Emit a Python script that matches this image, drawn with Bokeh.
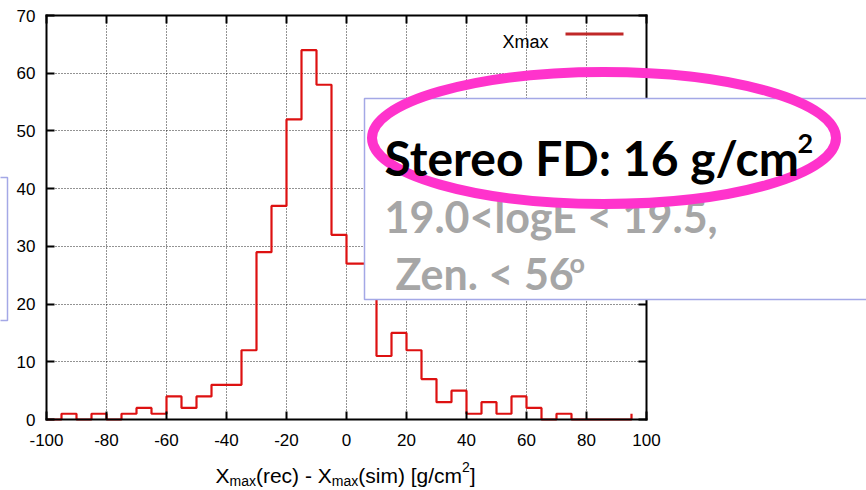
from bokeh.plotting import figure
from bokeh.models import (LinearAxis, FixedTicker, Label, BoxAnnotation,
                          Range1d, CustomJSTickFormatter)
from bokeh.embed import file_html
from bokeh.resources import INLINE

# ---- data ----
bin_left = [-100, -95, -90, -85, -80, -75, -70, -65, -60, -55,
            -50, -45, -40, -35, -30, -25, -20, -15, -10, -5,
            0, 5, 10, 15, 20, 25, 30, 35, 40, 45,
            50, 55, 60, 65, 70, 75, 80, 85, 90, 95]
counts = [0, 1, 0, 1, 0, 1, 2, 1, 4, 2,
          4, 6, 6, 12, 29, 37, 52, 64, 58, 32,
          27, 27, 11, 15, 12, 7, 3, 5, 1, 3,
          1, 4, 2, 0, 1, 0, 0, 0, 0, 1]
x_ticks = [-100, -80, -60, -40, -20, 0, 20, 40, 60, 80, 100]
y_ticks = [0, 10, 20, 30, 40, 50, 60, 70]
series_name = "Xmax"

W, H = 866, 490
XMIN, XMAX, YMIN, YMAX = -100, 100, 0, 70
FL, FR, FT, FB = 46, 646, 15, 419  # where the plot box sits, in pixels


def dx(px):
    return XMIN + (px - FL) * (XMAX - XMIN) / (FR - FL)


def dy(py):
    return YMIN + (FB - py) * (YMAX - YMIN) / (FB - FT)


# the frame covers the whole canvas; axes are drawn at fixed locations
p = figure(width=W, height=H, output_backend="svg", toolbar_location=None,
           x_range=Range1d(dx(0), dx(W)), y_range=Range1d(dy(H), dy(0)),
           min_border=0, outline_line_color=None,
           background_fill_color="white", border_fill_color="white")

TICK_FONT = "Liberation Sans"
blank = CustomJSTickFormatter(code="return ''")


def style_axis(ax, ticks, loc, bounds):
    ax.ticker = FixedTicker(ticks=ticks)
    ax.fixed_location = loc
    ax.bounds = bounds
    ax.axis_line_color = "black"
    ax.axis_line_width = 2
    ax.axis_line_cap = "square"
    ax.major_tick_in = 8
    ax.major_tick_out = 0
    ax.major_tick_line_width = 2
    ax.major_tick_line_color = "black"
    ax.minor_tick_line_color = None
    ax.major_label_text_font = TICK_FONT
    ax.major_label_text_font_size = "17px"
    ax.major_label_text_color = "black"


style_axis(p.xaxis[0], x_ticks, YMIN, (XMIN, XMAX))
style_axis(p.yaxis[0], y_ticks, XMIN, (YMIN, YMAX))
p.xaxis[0].major_label_overrides = {t: str(t) for t in x_ticks}
p.xaxis[0].major_label_standoff = 14
p.yaxis[0].major_label_standoff = 11

top = LinearAxis(formatter=blank)
style_axis(top, x_ticks, YMAX, (XMIN, XMAX))
right = LinearAxis(formatter=blank)
style_axis(right, y_ticks, XMAX, (YMIN, YMAX))
p.add_layout(top, "above")
p.add_layout(right, "right")

has_cross = "cross_bounds" in p.xgrid[0].properties()
for g, ticks, cb in [(p.xgrid[0], x_ticks, (YMIN, YMAX)), (p.ygrid[0], y_ticks, (XMIN, XMAX))]:
    g.ticker = FixedTicker(ticks=ticks)
    g.grid_line_color = "black"
    g.grid_line_dash = "1 2"
    g.grid_line_width = 1
    g.grid_line_alpha = 0.85
    if has_cross:
        g.cross_bounds = cb

if not has_cross:
    # white masks outside the plot box hide the grid's overhang
    for kw in [dict(right=XMIN), dict(left=XMAX), dict(top=YMIN), dict(bottom=YMAX)]:
        p.add_layout(BoxAnnotation(fill_color="white", fill_alpha=1, line_color=None,
                                   level="glyph", **kw))

# histogram
p.step(bin_left, counts, mode="after", line_color="#dd1111", line_width=2.2)

# legend: label then line sample
LEG_FONT = "Liberation Sans"
p.add_layout(Label(x=dx(502), y=dy(41), text=series_name, text_font=LEG_FONT,
                   text_font_size="18px", text_color="black",
                   text_baseline="alphabetic"))
p.segment(x0=[dx(565)], y0=[dy(33.5)], x1=[dx(623)], y1=[dy(33.5)],
          line_color="#c02828", line_width=3)

# x axis title with sub/superscripts
TF, SF = 21, 14
base = 475
pieces = [("X", TF, 0), ("max", SF, 5), ("(rec) - X", TF, 0), ("max", SF, 5),
          ("(sim) [g/cm", TF, 0), ("2", SF, -9), ("]", TF, 0)]
arial = {"X": 667, "m": 833, "a": 556, "x": 500, "(": 333, ")": 333, "r": 333,
         "e": 556, "c": 500, " ": 278, "-": 333, "s": 500, "i": 222, "[": 278,
         "]": 278, "g": 556, "/": 278, "2": 556}
cx = 215.0
for txt, fs, shift in pieces:
    p.add_layout(Label(x=dx(cx), y=dy(base + shift), text=txt, text_font=LEG_FONT,
                       text_font_size=f"{fs}px", text_color="black",
                       text_baseline="alphabetic", text_align="left"))
    cx += sum(arial[c] for c in txt) * fs / 1000.0

# overlay boxes
BOXC = "#a4a8e6"
p.add_layout(BoxAnnotation(left=dx(-20), right=dx(7), top=dy(177), bottom=dy(320),
                           fill_color="white", fill_alpha=1.0,
                           line_color=BOXC, line_alpha=1.0, line_width=1.5))
p.add_layout(BoxAnnotation(left=dx(364), right=dx(900), top=dy(98), bottom=dy(299),
                           fill_color="white", fill_alpha=1.0,
                           line_color=BOXC, line_alpha=1.0, line_width=1.5))

OV_FONT = "Lato"
GRAY = "#a6a6a6"
p.add_layout(Label(x=dx(384), y=dy(216), text="19.0<logE < 19.5,", text_font=OV_FONT,
                   text_font_style="bold", text_font_size="43px", text_color=GRAY,
                   text_baseline="alphabetic"))
p.add_layout(Label(x=dx(395), y=dy(273), text="Zen. < 56", text_font=OV_FONT,
                   text_font_style="bold", text_font_size="43px", text_color=GRAY,
                   text_baseline="alphabetic"))
p.add_layout(Label(x=dx(569), y=dy(262), text="o", text_font=OV_FONT,
                   text_font_style="bold", text_font_size="27px", text_color=GRAY,
                   text_baseline="alphabetic"))

# magenta ellipse, above the box
ell = p.ellipse(x=[dx(603.5)], y=[dy(137.5)], width=464, height=132,
                width_units="screen", height_units="screen", fill_alpha=0,
                line_color="#ff33cc", line_alpha=1.0, line_width=10)
ell.level = "overlay"

p.add_layout(Label(x=dx(384), y=dy(157), text="Stereo FD: 16 g/cm", text_font=OV_FONT,
                   text_font_style="bold", text_font_size="48px", text_color="black",
                   text_baseline="alphabetic", level="overlay"))
p.add_layout(Label(x=dx(797), y=dy(143), text="2", text_font=OV_FONT,
                   text_font_style="bold", text_font_size="27px", text_color="black",
                   text_baseline="alphabetic", level="overlay"))

open("out.html", "w").write(file_html(p, INLINE))
